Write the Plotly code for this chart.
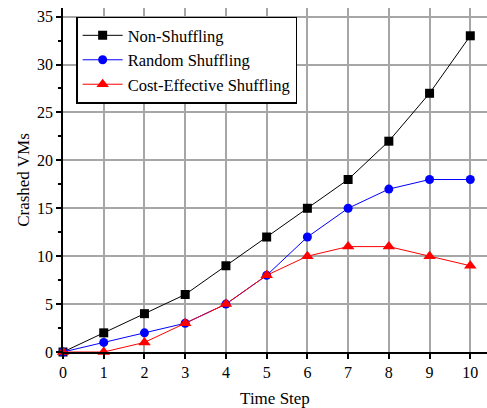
import plotly.graph_objects as go

time_steps = [0, 1, 2, 3, 4, 5, 6, 7, 8, 9, 10]
non_shuffling = [0, 2, 4, 6, 9, 12, 15, 18, 22, 27, 33]
random_shuffling = [0, 1, 2, 3, 5, 8, 12, 15, 17, 18, 18]
cost_effective = [0, 0, 1, 3, 5, 8, 10, 11, 11, 10, 9]

fig = go.Figure()
fig.add_trace(go.Scatter(x=time_steps, y=non_shuffling, name="Non-Shuffling",
                         mode="lines+markers", line=dict(color="black", width=1),
                         marker=dict(symbol="square", size=9, color="black"), cliponaxis=False))
fig.add_trace(go.Scatter(x=time_steps, y=random_shuffling, name="Random Shuffling",
                         mode="lines+markers", line=dict(color="blue", width=1),
                         marker=dict(symbol="circle", size=9, color="blue"), cliponaxis=False))
fig.add_trace(go.Scatter(x=time_steps, y=cost_effective, name="Cost-Effective Shuffling",
                         mode="lines+markers", line=dict(color="red", width=1),
                         marker=dict(symbol="triangle-up", size=11, color="red"), cliponaxis=False))

font = "'Liberation Serif', 'Times New Roman', serif"
fig.update_layout(
    width=487, height=408,
    margin=dict(l=63, r=0, t=8, b=56),
    paper_bgcolor="white", plot_bgcolor="white",
    font=dict(family=font, size=16, color="black"),
    showlegend=True,
    legend=dict(x=0.031, y=0.975, xanchor="left", yanchor="top",
                bordercolor="black", borderwidth=1.5, bgcolor="white",
                font=dict(family=font, size=16.5), tracegroupgap=0,
                itemwidth=40),
    xaxis=dict(range=[0, 10.41], tickvals=time_steps, showline=True, linecolor="black",
               linewidth=1.5, ticks="outside", ticklen=5, tickcolor="black", tickwidth=1.5,
               showgrid=True, gridcolor="#a6a6a6", gridwidth=1.5, zeroline=False,
               title=dict(text="Time Step", font=dict(family=font, size=17), standoff=12),
               tickfont=dict(family=font, size=16)),
    yaxis=dict(range=[0, 35.9], tickvals=[0, 5, 10, 15, 20, 25, 30, 35], showline=True,
               linecolor="black", linewidth=1.5, ticks="outside", ticklen=5, tickcolor="black",
               tickwidth=1.5, showgrid=True, gridcolor="#a6a6a6", gridwidth=1.5, zeroline=False,
               minor=dict(dtick=2.5, ticks="outside", ticklen=3, tickcolor="black", showgrid=False),
               title=dict(text="Crashed VMs", font=dict(family=font, size=17), standoff=3),
               tickfont=dict(family=font, size=16)),
)

fig.write_html("out.html", config={"displayModeBar": False},
               post_script="document.body.style.margin='0';document.body.style.padding='0';")
